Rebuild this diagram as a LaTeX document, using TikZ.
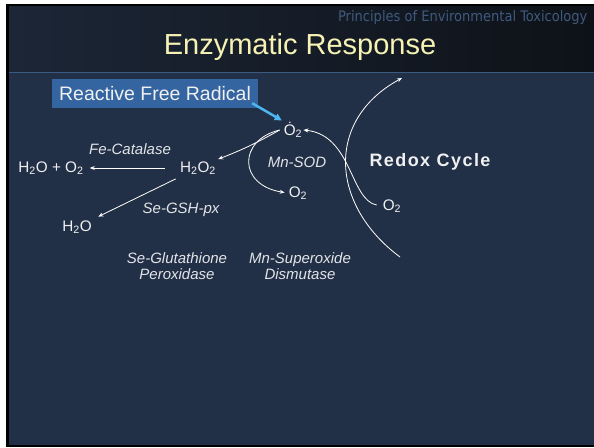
\documentclass[tikz,border=0pt]{standalone}
\usepackage{fontspec}
\setmainfont{Liberation Sans}
\newfontfamily\hdrfont{DejaVu Sans Condensed}
\usetikzlibrary{arrows.meta}
\definecolor{slidebg}{HTML}{223047}
\definecolor{hdrleft}{HTML}{1C2636}
\definecolor{hdrright}{HTML}{0E1218}
\definecolor{hdrline}{HTML}{3A5A80}
\definecolor{titletxt}{HTML}{F6F2B4}
\definecolor{hdrtxt}{HTML}{3F5A7E}
\definecolor{boxblue}{HTML}{3565A0}
\definecolor{radblue}{HTML}{4DB5F0}
\definecolor{labeltxt}{HTML}{F0F0F0}
\definecolor{enztxt}{HTML}{E2E4E8}
\tikzset{
  chem/.style={text=labeltxt, inner sep=1pt, font=\fontsize{15.3}{16}\selectfont},
  enz/.style={chem, text=enztxt, font=\fontsize{15}{16}\selectfont\itshape},
  react/.style={draw=white, line width=0.8pt, -{Stealth[length=5pt,width=4pt]}},
}

\begin{document}
\begin{tikzpicture}[x=1pt, y=-1pt]
			%%%%% START %%%%%
			
			\useasboundingbox (0, 0) rectangle (594, 447);
			\fill[white] (0, 0) rectangle (594, 447);
			\fill[black] (6, 4) rectangle (594, 447);
			\fill[slidebg] (9, 6) rectangle (594, 445);
			\shade[left color=hdrleft, right color=hdrright] (9, 6) rectangle (594, 72);
			\draw[hdrline, line width=1.2pt] (9, 72.5) -- (594, 72.5);
			
			\node[anchor=east, text=hdrtxt, font=\hdrfont\fontsize{14.5}{16}\selectfont] (course) at (591, 17) {Principles of Environmental Toxicology};
			\node[text=titletxt, font=\fontsize{29}{31}\selectfont] (title) at (300, 47) {Enzymatic Response};
			
			\node[fill=boxblue, text=labeltxt, minimum width=206, minimum height=29, font=\fontsize{19.5}{21}\selectfont] (radical) at (155, 93.5) {Reactive Free Radical};
			
			\node[chem] (superox) at (293, 130) {\.{O}\textsubscript{2}};
			\node[chem] (perox) at (198, 168) {H\textsubscript{2}O\textsubscript{2}};
			\node[chem] (wateroxy) at (51, 168) {H\textsubscript{2}O + O\textsubscript{2}};
			\node[chem] (water) at (77, 227) {H\textsubscript{2}O};
			\node[chem] (oxyA) at (298, 193) {O\textsubscript{2}};
			\node[chem] (oxyB) at (392, 206) {O\textsubscript{2}};
			
			\node[enz] (catalase) at (130, 149) {Fe-Catalase};
			\node[enz] (gshpx) at (181, 210) {Se-GSH-px};
			\node[enz] (sod) at (297, 162) {Mn-SOD};
			\node[enz, align=center] (gshname) at (177, 266) {Se-Glutathione\\Peroxidase};
			\node[enz, align=center] (sodname) at (300, 266) {Mn-Superoxide\\Dismutase};
			\node[text=labeltxt, font=\fontsize{18}{20}\selectfont\bfseries\addfontfeature{LetterSpace=8}] (redox) at (430, 162) {Redox Cycle};
			
			\draw[radblue, line width=2.5pt, -{Triangle[length=7pt,width=7pt]}, shorten >=1pt] ([shift={(-6,-5)}]radical.south east) -- (superox.north west);
			
			\draw[react, shorten <=14pt, shorten >=5pt] (perox) -- (wateroxy);
			\draw[react, shorten <=7pt, shorten >=6pt] (perox) -- (water);
			\coordinate (split) at ([xshift=-3pt]superox.west);
			\draw[react] (split) to[bend left=4] ([shift={(1,-1)}]perox.north east);
			\draw[react, shorten >=3pt] (split) .. controls (238, 140) and (238, 185) .. (oxyA.west);
			
			\coordinate (cycbot) at (400, 257);
			\coordinate (cyctop) at (402, 78);
			\draw[react] (cycbot) .. controls (330, 205) and (325, 120) .. (cyctop);
			\draw[react, shorten <=5pt] (oxyB.west) .. controls (350, 200) and (352, 135) .. (superox.east);
			
			%%%%% END %%%%%
\end{tikzpicture}
\end{document}
